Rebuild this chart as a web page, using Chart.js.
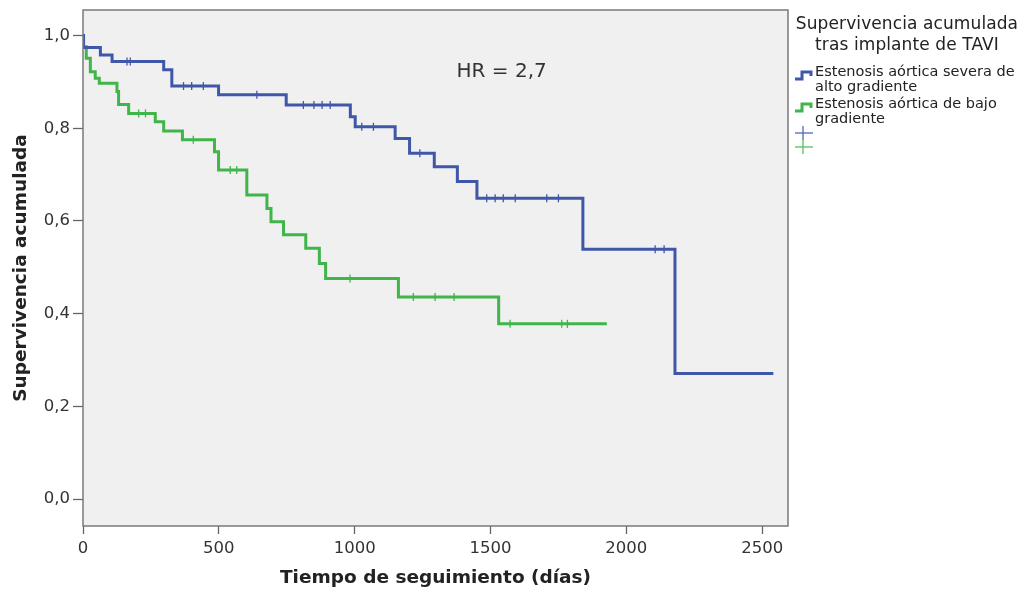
<!DOCTYPE html>
<html lang="es">
<head>
    <meta charset="UTF-8">
    <title>Supervivencia acumulada tras implante de TAVI</title>
    <script src="https://cdn.jsdelivr.net/npm/chart.js"></script>
    <style>
        body {
            margin: 0;
            background: #fff;
            font-family: 'DejaVu Sans', sans-serif;
            color: #222;
        }
        #wrap {
            position: relative;
            width: 1026px;
            height: 594px;
        }
        #legend {
            position: absolute;
            left: 788px;
            top: 13px;
            width: 238px;
        }
        #legend .titulo {
            text-align: center;
            font-size: 17px;
            line-height: 21px;
            letter-spacing: 0.1px;
        }
        #legend .item {
            position: relative;
            padding-left: 27px;
            font-size: 14.5px;
            line-height: 15px;
            margin-top: 2px;
        }
        #legend .item.primero {
            margin-top: 9px;
        }
        #legend .item svg {
            position: absolute;
            left: 7px;
            top: 5px;
        }
        #legend .cens {
            display: block;
            margin-left: 7px;
        }
    </style>
</head>
<body>
<div id="wrap">
    <canvas id="kmChart" width="1026" height="594"></canvas>
    <div id="legend">
        <div class="titulo">Supervivencia acumulada<br>tras implante de TAVI</div>
        <div class="item primero">
            <svg width="20" height="12"><polyline points="0,10 7,10 7,3 16,3 16,7" fill="none" stroke="#3f57a8" stroke-width="3"/></svg>
            Estenosis aórtica severa de<br>alto gradiente
        </div>
        <div class="item">
            <svg width="20" height="12"><polyline points="0,10 7,10 7,3 16,3 16,7" fill="none" stroke="#3fb54a" stroke-width="3"/></svg>
            Estenosis aórtica de bajo<br>gradiente
        </div>
        <svg class="cens" width="20" height="30" style="margin-top:-1px">
            <line x1="0" y1="8" x2="18" y2="8" stroke="#5068b8" stroke-width="1.3"/>
            <line x1="8" y1="1" x2="8" y2="15" stroke="#5068b8" stroke-width="1.3"/>
            <line x1="0" y1="22" x2="18" y2="22" stroke="#55c060" stroke-width="1.3"/>
            <line x1="8" y1="15" x2="8" y2="29" stroke="#55c060" stroke-width="1.3"/>
        </svg>
    </div>
</div>

<script>
    // Alto gradiente (azul): tiempos de evento y supervivencia
    const altoTiempo = [0, 2, 64, 107, 297, 327, 499, 748, 984, 1002, 1149, 1202, 1293, 1378, 1450, 1840, 2179, 2541];
    const altoSuperv = [1.0, 0.974, 0.958, 0.944, 0.926, 0.891, 0.872, 0.850, 0.825, 0.803, 0.778, 0.746, 0.717, 0.685, 0.649, 0.539, 0.271, 0.271];
    const altoCensT = [162, 174, 370, 400, 443, 640, 811, 850, 880, 910, 1026, 1069, 1240, 1486, 1517, 1547, 1591, 1707, 1750, 2106, 2139];
    const altoCensS = [0.944, 0.944, 0.891, 0.891, 0.891, 0.872, 0.850, 0.850, 0.850, 0.850, 0.803, 0.803, 0.746, 0.649, 0.649, 0.649, 0.649, 0.649, 0.649, 0.539, 0.539];

    // Bajo gradiente (verde)
    const bajoTiempo = [0, 2, 12, 27, 45, 60, 125, 131, 168, 266, 297, 366, 484, 499, 603, 677, 692, 738, 820, 870, 893, 1161, 1530, 1928];
    const bajoSuperv = [1.0, 0.976, 0.951, 0.922, 0.908, 0.897, 0.879, 0.851, 0.832, 0.814, 0.794, 0.775, 0.749, 0.710, 0.656, 0.627, 0.598, 0.570, 0.541, 0.508, 0.476, 0.436, 0.378, 0.378];
    const bajoCensT = [205, 230, 406, 542, 566, 983, 1216, 1296, 1366, 1572, 1762, 1783];
    const bajoCensS = [0.832, 0.832, 0.775, 0.710, 0.710, 0.476, 0.436, 0.436, 0.436, 0.378, 0.378, 0.378];

    const xTicks = [0, 500, 1000, 1500, 2000, 2500];
    const yTicks = [0.0, 0.2, 0.4, 0.6, 0.8, 1.0];
    const hrTexto = 'HR = 2,7';

    const azul = '#3f57a8';
    const verde = '#3fb54a';

    function puntos(ts, ss) {
        return ts.map((t, i) => ({ x: t, y: ss[i] }));
    }

    const fondoPlot = {
        id: 'fondoPlot',
        beforeDraw(chart) {
            const { ctx, chartArea: a } = chart;
            ctx.save();
            ctx.fillStyle = '#f0f0f0';
            ctx.fillRect(a.left, a.top, a.right - a.left, a.bottom - a.top);
            ctx.restore();
        },
        afterDraw(chart) {
            const { ctx, chartArea: a, scales } = chart;
            ctx.save();
            ctx.strokeStyle = '#7a7a7a';
            ctx.lineWidth = 1.5;
            ctx.strokeRect(a.left, a.top, a.right - a.left, a.bottom - a.top);
            ctx.fillStyle = '#333';
            ctx.font = '20px "DejaVu Sans"';
            ctx.textAlign = 'center';
            ctx.textBaseline = 'middle';
            ctx.fillText(hrTexto, scales.x.getPixelForValue(1541), scales.y.getPixelForValue(0.922));
            ctx.restore();
        }
    };

    const tickFont = { family: 'DejaVu Sans', size: 16.5 };
    const titleFont = { family: 'DejaVu Sans', size: 18.5, weight: 'bold' };

    // sin relleno extra de las etiquetas: el área del gráfico queda fija
    function sinPadding(s) {
        s.paddingTop = 0;
        s.paddingBottom = 0;
        s.paddingLeft = 0;
        s.paddingRight = 0;
    }

    new Chart(document.getElementById('kmChart'), {
        type: 'line',
        data: {
            datasets: [
                {
                    label: 'Estenosis aórtica severa de alto gradiente',
                    data: puntos(altoTiempo, altoSuperv),
                    borderColor: azul,
                    borderWidth: 3,
                    stepped: true,
                    pointRadius: 0,
                    fill: false
                },
                {
                    label: 'Estenosis aórtica de bajo gradiente',
                    data: puntos(bajoTiempo, bajoSuperv),
                    borderColor: verde,
                    borderWidth: 3,
                    stepped: true,
                    pointRadius: 0,
                    fill: false
                },
                {
                    label: 'Censurado alto',
                    data: puntos(altoCensT, altoCensS),
                    showLine: false,
                    pointStyle: 'line',
                    rotation: 90,
                    pointRadius: 4,
                    borderColor: azul,
                    borderWidth: 1.3
                },
                {
                    label: 'Censurado bajo',
                    data: puntos(bajoCensT, bajoCensS),
                    showLine: false,
                    pointStyle: 'line',
                    rotation: 90,
                    pointRadius: 4,
                    borderColor: verde,
                    borderWidth: 1.3
                }
            ]
        },
        options: {
            responsive: false,
            animation: false,
            layout: { padding: { left: 0, right: 238, top: 10, bottom: 0 } },
            plugins: {
                legend: { display: false },
                tooltip: { enabled: false }
            },
            scales: {
                x: {
                    type: 'linear',
                    min: 0,
                    max: 2595,
                    afterBuildTicks: s => { s.ticks = xTicks.map(v => ({ value: v })); },
                    afterFit: s => { s.height = 68; sinPadding(s); },
                    grid: { drawOnChartArea: false, drawTicks: true, tickLength: 8, tickColor: '#666', tickWidth: 1.3 },
                    border: { display: false },
                    ticks: { font: tickFont, color: '#333', padding: 5, maxRotation: 0, callback: v => String(v) },
                    title: { display: true, text: 'Tiempo de seguimiento (días)', font: titleFont, color: '#222', padding: 5 }
                },
                y: {
                    min: -0.058,
                    max: 1.055,
                    afterBuildTicks: s => { s.ticks = yTicks.map(v => ({ value: v })); },
                    afterFit: s => { s.width = 83; sinPadding(s); },
                    grid: { drawOnChartArea: false, drawTicks: true, tickLength: 10, tickColor: '#666', tickWidth: 1.3 },
                    border: { display: false },
                    ticks: {
                        font: tickFont,
                        color: '#333',
                        padding: 3,
                        callback: v => v.toFixed(1).replace('.', ',')
                    },
                    title: { display: true, text: 'Supervivencia acumulada', font: titleFont, color: '#222', padding: 10 }
                }
            }
        },
        plugins: [fondoPlot]
    });
</script>
</body>
</html>
